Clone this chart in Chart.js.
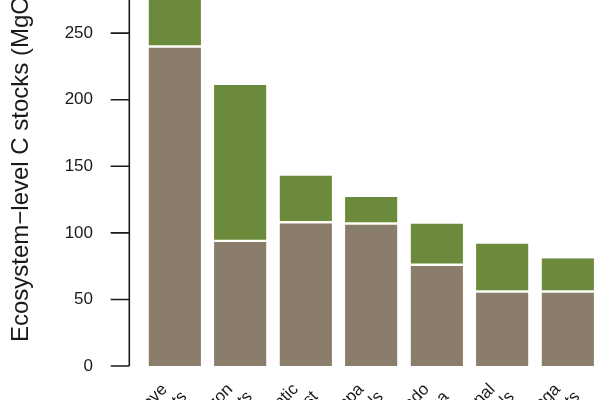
<!DOCTYPE html>
<html>
<head>
<meta charset="utf-8">
<script src="https://cdn.jsdelivr.net/npm/chart.js@4"></script>
<style>
  html, body { margin: 0; width: 600px; height: 400px; overflow: hidden; background: #fff; }
  #wrap { position: absolute; left: 0; top: -104px; width: 610px; height: 595px; }
</style>
</head>
<body>
<div id="wrap"><canvas id="stocks"></canvas></div>
<script>
var categories = [
    ["Mangrove", "forests"],
    ["Amazon", "forests"],
    ["Atlantic", "forest"],
    ["Pampa", "grasslands"],
    ["Cerrado", "savanna"],
    ["Pantanal", "wetlands"],
    ["Caatinga", "forests"]
];
// lower (brown) and upper (green) parts of each stack, MgC ha-1
var lowerStock = [240, 94, 108, 107, 76, 56, 56];
var upperStock = [55, 117, 35, 20, 31, 36, 25];
var yTicks = [0, 50, 100, 150, 200, 250, 300];

var fontFamily = "'Liberation Sans', Arial, Helvetica, sans-serif";

// R-style y axis: line + outward ticks, set off a little from the bars
var rAxis = {
    id: "rAxis",
    afterDraw: function (chart) {
        var ctx = chart.ctx;
        var y = chart.scales.y;
        var axisX = chart.chartArea.left - 12.7;
        ctx.save();
        ctx.strokeStyle = "#1a1a1a";
        ctx.lineWidth = 1.6;
        ctx.beginPath();
        ctx.moveTo(axisX, y.getPixelForValue(yTicks[0]));
        ctx.lineTo(axisX, y.getPixelForValue(yTicks[yTicks.length - 1]));
        yTicks.forEach(function (v) {
            var py = y.getPixelForValue(v);
            ctx.moveTo(axisX - 18.6, py);
            ctx.lineTo(axisX, py);
        });
        ctx.stroke();
        ctx.restore();
    }
};

function drawStockChart() {
    var ctx = document.getElementById("stocks").getContext("2d");
    var stockChart = new Chart(ctx, {
        type: "bar",
        data: {
            labels: categories,
            datasets: [
                {
                    data: lowerStock,
                    backgroundColor: "#8b7d6c",
                    borderColor: "#fdfdf2",
                    borderWidth: { top: 1.2, left: 0, right: 0, bottom: 0 },
                    borderSkipped: false,
                    barPercentage: 0.8,
                    categoryPercentage: 1,
                },
                {
                    data: upperStock,
                    backgroundColor: "#6c8a3c",
                    borderColor: "#fdfdf2",
                    borderWidth: { top: 0, left: 0, right: 0, bottom: 1.2 },
                    borderSkipped: false,
                    barPercentage: 0.8,
                    categoryPercentage: 1,
                },
            ],
        },
        options: {
            responsive: true,
            maintainAspectRatio: false,
            animation: false,
            layout: { padding: { top: 20, right: 9.5, bottom: 0, left: 0 } },
            plugins: { legend: { display: false }, tooltip: { enabled: false } },
            scales: {
                x: {
                    stacked: true,
                    grid: { display: false, drawTicks: false },
                    border: { display: false },
                    ticks: {
                        autoSkip: false,
                        minRotation: 45,
                        maxRotation: 45,
                        padding: 8,
                        labelOffset: -4,
                        color: "#1a1a1a",
                        font: { family: fontFamily, size: 17, lineHeight: 1.12 },
                        // first line sits a little further along than the second, as in the original
                        callback: function (v, i) { return [categories[i][0] + "\u2002", categories[i][1]]; },
                    },
                    afterFit: function (s) { s.height = 125; },
                },
                y: {
                    stacked: true,
                    min: 0,
                    max: 338,
                    grid: { display: false, drawTicks: true, tickLength: 44 },
                    border: { display: false },
                    ticks: {
                        stepSize: 50,
                        padding: 5,
                        color: "#1a1a1a",
                        font: { family: fontFamily, size: 17 },
                        callback: function (v) { return yTicks.indexOf(v) >= 0 ? v : ""; },
                    },
                    title: {
                        display: true,
                        text: "Ecosystem\u2212level C stocks (MgC ha\u207B\u00B9)",
                        color: "#1a1a1a",
                        font: { family: fontFamily, size: 24 },
                        padding: { top: 6.5, bottom: 0 },
                    },
                    afterFit: function (s) { s.width = 142; },
                },
            },
        },
        plugins: [rAxis],
    });
}

window.onload = function () {
    drawStockChart();
};
</script>
</body>
</html>
